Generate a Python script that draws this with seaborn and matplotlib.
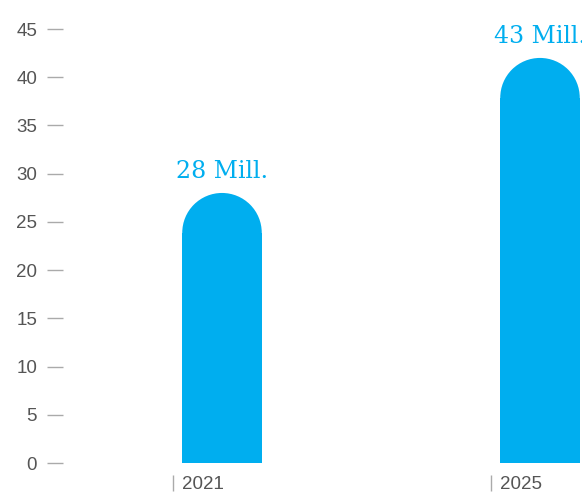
import matplotlib
matplotlib.use('Agg')
import matplotlib.pyplot as plt
import matplotlib.transforms as mtransforms
from matplotlib.patches import Ellipse
import pandas as pd
import seaborn as sns

# data
years = ['2021', '2025']
values = [28, 42]
value_labels = ['28 Mill.', '43 Mill.']
y_ticks = [0, 5, 10, 15, 20, 25, 30, 35, 40, 45]

blue = '#00AEEF'
grey_text = '#555555'
grey_tick = '#AAAAAA'

sns.set_style('white')
plt.rcParams['font.family'] = ['Liberation Sans', 'DejaVu Sans']

df = pd.DataFrame({'year': years, 'value': values})

W, H = 582, 494
fig = plt.figure(figsize=(W / 100, H / 100), dpi=100)
ax = fig.add_axes([63 / W, (H - 463) / H, 1 - 63 / W, (463 - 29) / H])

sns.barplot(data=df, x='year', y='value', order=years, color=blue,
            saturation=1, width=0.25, linewidth=0, edgecolor='none', ax=ax)

ax.set_xlim(-0.5, 1 + (W - 222 - 318) / 318)
ax.set_ylim(0, 45)
ax.set_xlabel('')
ax.set_ylabel('')
for s in ax.spines.values():
    s.set_visible(False)
ax.spines['bottom'].set_position(('outward', 12 * 0.72))

# rounded tops: shorten each bar by its half width (in pixels) and put a half disc on it
fig.canvas.draw()
for bar in ax.patches[:len(values)]:
    x0 = bar.get_x()
    w = bar.get_width()
    h = bar.get_height()
    p0 = ax.transData.transform((x0, 0))
    p1 = ax.transData.transform((x0 + w, 0))
    r_px = (p1[0] - p0[0]) / 2
    r_data = ax.transData.inverted().transform((0, ax.transData.transform((0, 0))[1] + r_px))[1]
    bar.set_height(h - r_data)
    cap = Ellipse((x0 + w / 2, h - r_data), w, 2 * r_data, facecolor=blue,
                  edgecolor='none', lw=0)
    ax.add_patch(cap)

for i, (v, lbl) in enumerate(zip(values, value_labels)):
    ax.annotate(lbl, (i, v), xytext=(0, 11), textcoords='offset points',
                ha='center', va='baseline', color=blue, fontsize=17,
                family='DejaVu Serif', annotation_clip=False)

ax.set_yticks(y_ticks)
ax.set_yticklabels([str(t) for t in y_ticks])
ax.tick_params(axis='y', length=11.5, width=1, color=grey_tick, pad=7.2,
               labelsize=13.5, labelcolor=grey_text, left=True)

ax.set_xticks([i - 0.155 for i in range(len(years))])
ax.set_xticklabels(years)
ax.tick_params(axis='x', length=11.5, width=1, color=grey_tick, pad=0,
               labelsize=13.5, labelcolor=grey_text, bottom=True)
shift = mtransforms.ScaledTranslation(9 / 100, 2 / 100, fig.dpi_scale_trans)
for t in ax.get_xticklabels():
    t.set_ha('left')
    t.set_va('baseline')
    t.set_transform(t.get_transform() + shift)

fig.savefig('out.png', dpi=100)
